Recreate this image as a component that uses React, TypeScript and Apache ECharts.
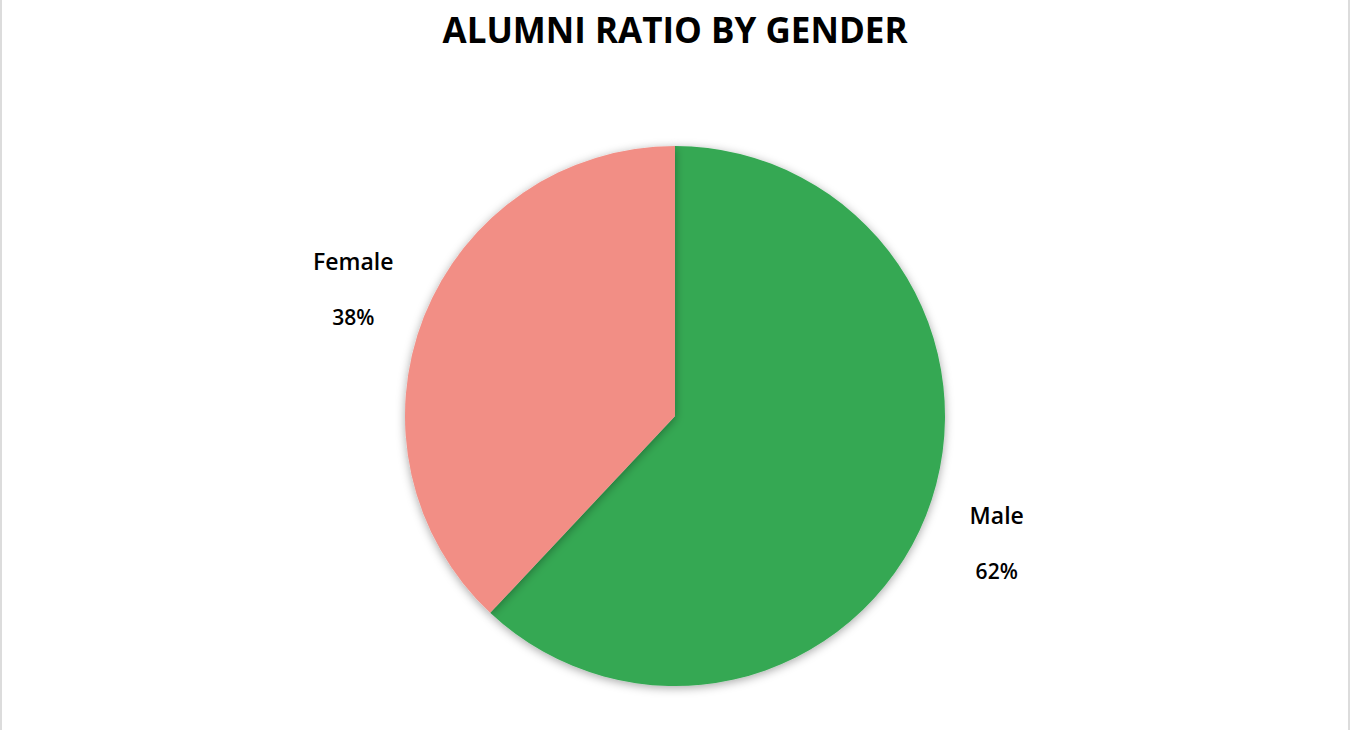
import React, { useEffect, useRef } from "react";
import * as echarts from "echarts";

const categories = ["Male", "Female"];
const values = [62, 38];
const colors = ["#35A853", "#F28E85"];
const titleText = "ALUMNI RATIO BY GENDER";

export default function App() {
  const ref = useRef<HTMLDivElement>(null);
  useEffect(() => {
    if (!ref.current) return;
    const chart = echarts.init(ref.current, null, { renderer: "svg" });
    const cx = 675;
    const cy = 416;
    const total = values.reduce((a, b) => a + b, 0);
    const labelR = 346;
    chart.setOption({
      animation: false,
      backgroundColor: "#ffffff",
      title: {
        text: titleText,
        left: "center",
        top: 7,
        textStyle: {
          fontFamily: "Open Sans",
          fontWeight: "bold",
          fontSize: 35,
          color: "#000000",
        },
      },
      graphic: [
        { type: "rect", left: 0, top: 0, shape: { width: 2, height: 730 }, style: { fill: "#dcdcdc" } },
        { type: "rect", right: 0, top: 0, shape: { width: 2, height: 730 }, style: { fill: "#dcdcdc" } },
      ],
      series: [
        {
          type: "pie",
          center: [cx, cy],
          radius: [0, 270],
          startAngle: 90,
          clockwise: true,
          data: categories.map((c, i) => ({
            name: c,
            value: values[i],
            itemStyle: { color: colors[i] },
          })),
          itemStyle: {
            shadowBlur: 10,
            shadowColor: "rgba(0,0,0,0.35)",
            shadowOffsetY: 2,
          },
          label: {
            show: true,
            position: "outside",
            formatter: "{b|{b}}\n{p|{d}%}",
            rich: {
              b: {
                fontFamily: "Open Sans",
                fontWeight: 600,
                fontSize: 23,
                color: "#000000",
                lineHeight: 56,
                align: "center",
              },
              p: {
                fontFamily: "Open Sans",
                fontWeight: 600,
                fontSize: 21,
                color: "#000000",
                lineHeight: 56,
                align: "center",
              },
            },
          },
          labelLine: { show: false },
          labelLayout: (params: any) => {
            const i = params.dataIndex;
            let before = 0;
            for (let k = 0; k < i; k++) before += values[k];
            const mid = ((before + values[i] / 2) / total) * Math.PI * 2;
            return {
              x: cx + labelR * Math.sin(mid),
              y: cy - labelR * Math.cos(mid),
              align: "center",
              verticalAlign: "middle",
            };
          },
        },
      ],
    });
    return () => chart.dispose();
  }, []);
  return (
    <div
      ref={ref}
      style={{ position: "fixed", left: 0, top: 0, width: 1350, height: 730 }}
    />
  );
}
